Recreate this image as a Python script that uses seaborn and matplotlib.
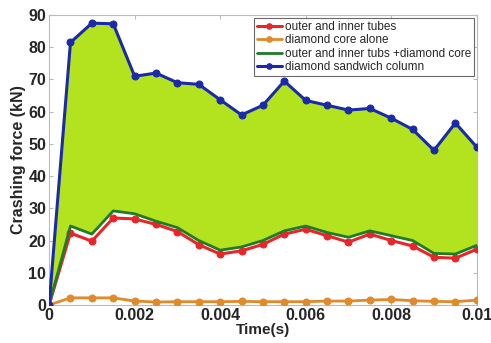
import numpy as np
import pandas as pd
import matplotlib
matplotlib.use("Agg")
import matplotlib.pyplot as plt
import seaborn as sns

time_s = [0, 0.0005, 0.001, 0.0015, 0.002, 0.0025, 0.003, 0.0035, 0.004, 0.0045,
          0.005, 0.0055, 0.006, 0.0065, 0.007, 0.0075, 0.008, 0.0085, 0.009, 0.0095, 0.01]
tubes = [0, 22.3, 19.8, 27.0, 26.7, 25.0, 22.8, 18.7, 15.8, 16.8,
         18.8, 22.0, 23.5, 21.5, 19.5, 22.0, 20.0, 18.3, 14.8, 14.5, 17.3]
core = [0, 2.2, 2.2, 2.2, 1.2, 0.9, 1.0, 1.0, 1.0, 1.1,
        1.0, 1.0, 1.0, 1.2, 1.2, 1.5, 1.7, 1.3, 1.1, 1.0, 1.5]
tubes_core = [0, 24.5, 22.0, 29.2, 28.3, 26.0, 24.0, 20.0, 17.0, 18.0,
              20.0, 23.0, 24.5, 22.5, 21.0, 23.0, 21.5, 20.0, 16.0, 15.8, 18.5]
sandwich = [0, 81.5, 87.5, 87.3, 71.0, 72.0, 69.0, 68.5, 63.7, 59.0,
            62.0, 69.5, 63.5, 62.0, 60.5, 61.0, 58.0, 54.5, 48.0, 56.5, 49.0]

labels = ["outer and inner tubes", "diamond core alone",
          "outer and inner tubs +diamond core", "diamond sandwich column"]

df = pd.DataFrame({"time": time_s, "tubes": tubes, "core": core,
                   "tubes_core": tubes_core, "sandwich": sandwich})

sns.set_style("white")
plt.rcParams["font.family"] = ["Liberation Sans", "DejaVu Sans"]

fig = plt.figure(figsize=(4.91, 3.43), dpi=100)
ax = fig.add_axes([0.1, 0.111, 0.871, 0.845])

# energy-absorption gain region between the plain assembly and the sandwich column
ax.fill_between(df["time"], df["tubes_core"], df["sandwich"], color="#b3e21f", lw=0, zorder=1)

sns.lineplot(data=df, x="time", y="tubes", ax=ax, color="#e8262a", lw=2.2,
             marker="o", markersize=5, markeredgecolor="#e8262a", label=labels[0], zorder=3)
sns.lineplot(data=df, x="time", y="core", ax=ax, color="#e08a2a", lw=2.0,
             marker="o", markersize=5, markeredgecolor="#e08a2a", label=labels[1], zorder=3)
sns.lineplot(data=df, x="time", y="tubes_core", ax=ax, color="#1f7a2a", lw=2.0,
             label=labels[2], zorder=3)
sns.lineplot(data=df, x="time", y="sandwich", ax=ax, color="#1a2aa8", lw=2.2,
             marker="o", markersize=5, markeredgecolor="#1a2aa8", label=labels[3], zorder=4)

ax.set_xlim(0, 0.01)
ax.set_ylim(0, 90)
ax.set_xticks([0, 0.002, 0.004, 0.006, 0.008, 0.01])
ax.set_xticklabels(["0", "0.002", "0.004", "0.006", "0.008", "0.01"])
ax.set_yticks(range(0, 91, 10))
ax.tick_params(axis="both", direction="in", length=3, labelsize=11.5, pad=2,
               color="#bbbbbb", bottom=True, left=True, top=True, right=True)
for lab in ax.get_xticklabels() + ax.get_yticklabels():
    lab.set_fontweight("bold")

ax.set_xlabel("Time(s)", fontsize=11, fontweight="bold", labelpad=0)
ax.set_ylabel("Crashing force (kN)", fontsize=11.5, fontweight="bold", labelpad=2)

for sp in ax.spines.values():
    sp.set_color("#bbbbbb")
    sp.set_linewidth(0.8)

leg = ax.legend(loc="upper right", fontsize=8.5, frameon=True, fancybox=False,
                borderpad=0.25, labelspacing=0.12, handlelength=2.1, handletextpad=0.25,
                borderaxespad=0.25, markerscale=0.8)
leg.get_frame().set_edgecolor("#444444")
leg.get_frame().set_linewidth(0.8)

fig.savefig("out.png", dpi=100)
